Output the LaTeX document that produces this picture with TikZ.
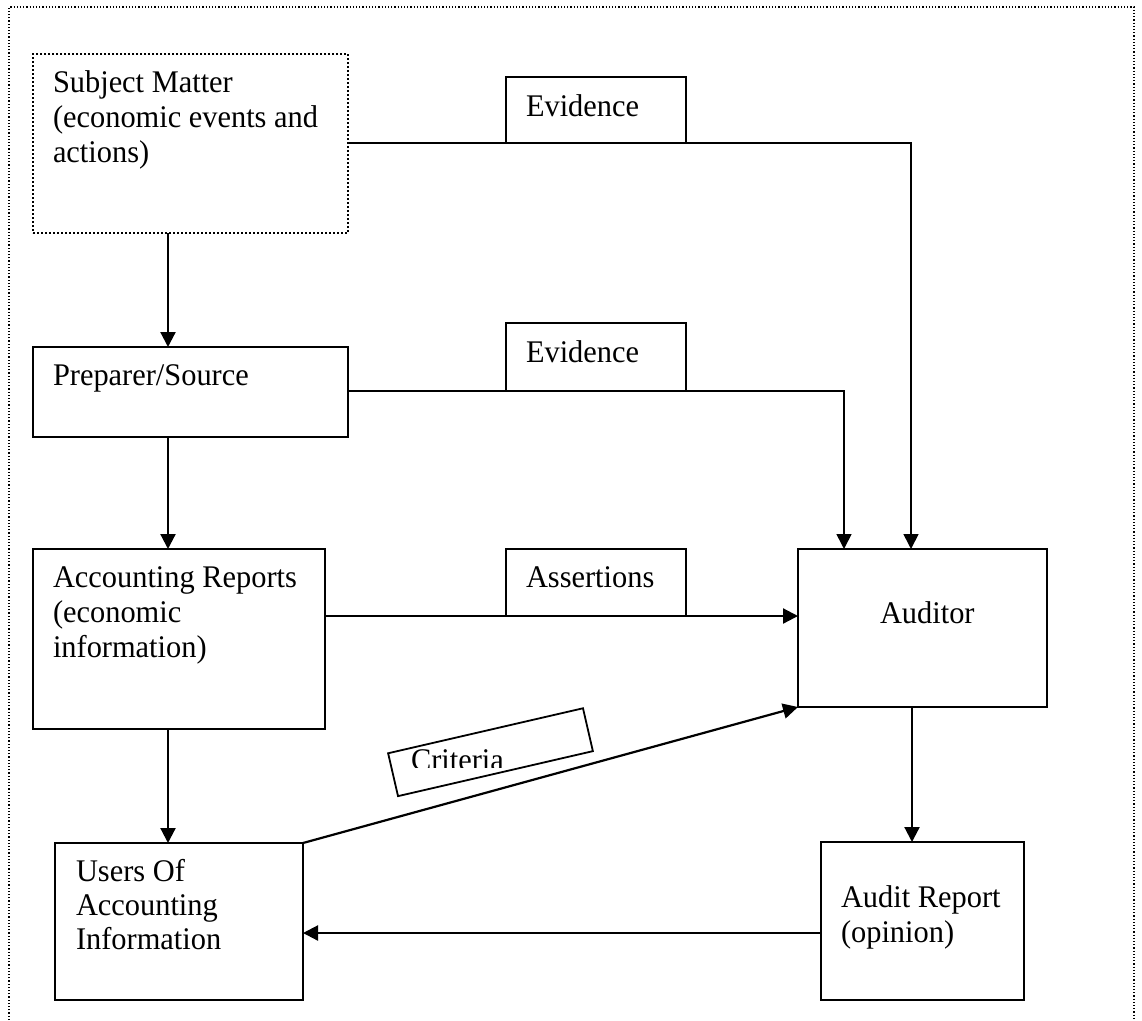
\documentclass[tikz,border=0pt]{standalone}
\usepackage{fontspec}
\setmainfont[FakeStretch=0.965]{Liberation Serif}
\usetikzlibrary{arrows.meta,calc}
\begin{document}
\begin{tikzpicture}[x=1pt,y=-1pt,
  box/.style={draw, line width=2pt, inner sep=0pt, outer sep=0pt, anchor=north west},
  dotbox/.style={box, dotted, line width=1.6pt},
  txt/.style={inner sep=0pt, outer sep=0pt, anchor=base west, font=\fontsize{31.5}{35}\selectfont},
  conn/.style={line width=2.2pt},
  thinconn/.style={line width=1.6pt},
  tip/.style={-{Triangle[length=15pt,width=15pt]}},
  arr/.style={conn, tip}]
\useasboundingbox (0,0) rectangle (1142,1020);
% outer frame (open at bottom)
\draw[dotted, line width=1.2pt] (9,1020) -- (9,7) -- (1134,7) -- (1134,1020);

% boxes
\node[dotbox, minimum width=315pt, minimum height=179pt] (subj) at (33,54) {};
\node[box, minimum width=315pt, minimum height=90pt] (prep) at (33,347) {};
\node[box, minimum width=292pt, minimum height=180pt] (acc) at (33,549) {};
\node[box, minimum width=248pt, minimum height=157pt] (users) at (55,843) {};
\node[box, minimum width=249pt, minimum height=158pt] (aud) at (798,549) {};
\node[box, minimum width=203pt, minimum height=158pt] (rep) at (821,842) {};
\node[box, minimum width=180pt, minimum height=66pt] (ev1) at (506,77) {};
\node[box, minimum width=180pt, minimum height=68pt] (ev2) at (506,323) {};
\node[box, minimum width=180pt, minimum height=67pt] (ass) at (506,549) {};
\node[draw, line width=1.8pt, inner sep=0pt, minimum width=200pt, minimum height=44pt, rotate=13] (crit) at (490.5,752.2) {};

% texts
\node[txt] (t1a) at (53,92) {Subject Matter};
\node[txt] (t1b) at (53,127) {(economic events and};
\node[txt] (t1c) at (53,162) {actions)};
\node[txt] (t2) at (53,385) {Preparer/Source};
\node[txt] (t3a) at (53,587) {Accounting Reports};
\node[txt] (t3b) at (53,622) {(economic};
\node[txt] (t3c) at (53,657) {information)};
\node[txt] (t4a) at (76,881) {Users Of};
\node[txt] (t4b) at (76,915) {Accounting};
\node[txt] (t4c) at (76,949) {Information};
\node[txt] (t5) at (880,623) {Auditor};
\node[txt] (t6a) at (841,907) {Audit Report};
\node[txt] (t6b) at (841,942) {(opinion)};
\node[txt] (t7) at (526,116) {Evidence};
\node[txt] (t8) at (526,362) {Evidence};
\node[txt] (t9) at (526,587) {Assertions};
\begin{scope}
  \clip (380,700) rectangle (600,767);
  \node[txt] (t10) at (411,770) {Criteria};
\end{scope}

% connection points
\coordinate (s1) at (subj.east |- ev1.south);
\coordinate (a1) at (911,549);
\coordinate (p1) at (prep.east |- ev2.south);
\coordinate (a2) at (844,549);
\coordinate (c1) at (acc.east |- ass.south);
\coordinate (sb) at (168,233);
\coordinate (pt) at (168,347);
\coordinate (pb) at (168,437);
\coordinate (at) at (168,549);
\coordinate (ab) at (168,729);
\coordinate (ut) at (168,843);
\coordinate (ab2) at (912,707);
\coordinate (rt) at (912,842);
\coordinate (rl) at (rep.west |- 0,933);
\coordinate (ur) at (users.east |- 0,933);

% connectors
\draw[thinconn, tip] (s1) -| (a1);
\draw[thinconn, tip] (p1) -| (a2);
\draw[arr] (c1) -- (aud.west |- c1);
\draw[arr] (sb) -- (pt);
\draw[arr] (pb) -- (at);
\draw[arr] (ab) -- (ut);
\draw[arr] (ab2) -- (rt);
\draw[arr] (rl) -- (ur);
\draw[arr] (users.north east) -- (aud.south west);
\end{tikzpicture}
\end{document}
